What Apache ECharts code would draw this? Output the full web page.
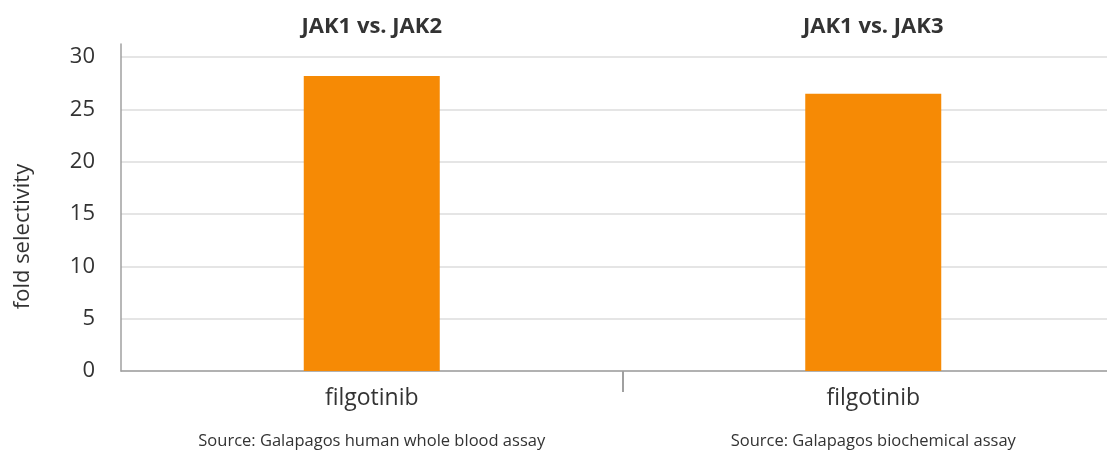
<!DOCTYPE html>
<html style="height: 100%">
<head>
  <meta charset="UTF-8" />
  <title>JAK selectivity</title>
  <script src="https://cdn.jsdelivr.net/npm/echarts@6/dist/echarts.min.js"></script>
</head>
<body style="height: 100%; margin: 0; background: #fff">
  <div id="container" style="width: 1107px; height: 450px"></div>
  <script>
    const categories = ['filgotinib', 'filgotinib'];
    const titles = ['JAK1 vs. JAK2', 'JAK1 vs. JAK3'];
    const sources = ['Source: Galapagos human whole blood assay', 'Source: Galapagos biochemical assay'];
    const values = [28.2, 26.5];
    const yTicks = [0, 5, 10, 15, 20, 25, 30];
    // helper axis: panel edges, only the middle one gets a divider tick
    const panelEdges = ['', '', ''];

    const font = '"Open Sans", "Noto Sans", sans-serif';
    const chart = echarts.init(document.getElementById('container'), null, { renderer: 'canvas' });

    chart.setOption({
      animation: false,
      textStyle: { fontFamily: font },
      grid: { left: 121, right: -17, top: 44, bottom: 79, containLabel: false, outerBoundsMode: 'none' },
      xAxis: [{
        type: 'category',
        data: categories,
        position: 'bottom',
        axisLine: { lineStyle: { color: '#a0a0a0', width: 1.5 } },
        axisTick: { show: false },
        axisLabel: {
          interval: 0,
          hideOverlap: false,
          margin: 13,
          color: '#333',
          fontSize: 23,
          fontFamily: font,
          lineHeight: 28,
          formatter: (v, i) => v + '\n{s|' + sources[i] + '}',
          rich: {
            s: { fontSize: 16.5, color: '#333', fontFamily: font, lineHeight: 58 }
          }
        }
      }, {
        type: 'category',
        data: titles,
        position: 'top',
        axisLine: { show: false },
        axisTick: { show: false },
        axisLabel: { interval: 0, margin: 6, color: '#333', fontSize: 22, fontWeight: 'bold', fontFamily: font }
      }, {
        type: 'category',
        data: panelEdges,
        position: 'bottom',
        boundaryGap: false,
        axisLine: { show: false },
        axisLabel: { show: false },
        axisTick: {
          show: true,
          length: 21,
          interval: (i) => i === 1,
          lineStyle: { color: '#a0a0a0', width: 2 }
        }
      }],
      yAxis: {
        type: 'value',
        min: 0,
        max: 31.25,
        interval: 5,
        name: 'fold selectivity',
        nameLocation: 'middle',
        nameGap: 87,
        nameTextStyle: { color: '#333', fontSize: 22, fontFamily: font, padding: [0, 58, 0, 0] },
        axisLine: { show: true, lineStyle: { color: '#a0a0a0', width: 1.5 } },
        axisTick: { show: false },
        axisLabel: {
          margin: 26,
          color: '#333',
          fontSize: 22,
          fontFamily: font,
          formatter: (v) => (yTicks.indexOf(v) >= 0 ? String(v) : '')
        },
        splitLine: {
          lineStyle: { color: ['#dddddd', '#dddddd', '#dddddd', '#dddddd', '#dddddd', '#dddddd', '#dddddd', 'rgba(0,0,0,0)'], width: 1.5 }
        }
      },
      series: [{
        type: 'bar',
        data: values,
        barWidth: 136,
        itemStyle: { color: '#f68a05' }
      }]
    });
  </script>
</body>
</html>
